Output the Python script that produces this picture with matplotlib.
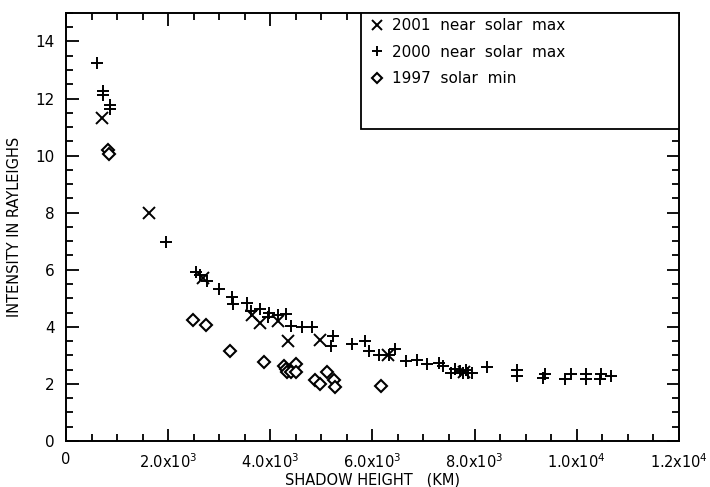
import numpy as np
import matplotlib
matplotlib.use("Agg")
import matplotlib.pyplot as plt
from matplotlib.patches import Rectangle
from matplotlib.ticker import MultipleLocator, FixedLocator

plt.rcParams['font.family'] = ['DejaVu Sans']
plt.rcParams['mathtext.default'] = 'regular'

# 2001 near solar max (x)
h_2001 = [700, 1618, 2680, 3650, 3790, 4146, 4343, 4980, 6311, 7800]
i_2001 = [11.32, 8.0, 5.72, 4.42, 4.12, 4.22, 3.5, 3.55, 3.0, 2.42]

# 2000 near solar max (+)
h_2000 = [614, 725, 725, 858, 858, 1954, 2540, 2620, 2760, 2990, 3255, 3270,
          3540, 3618, 3796, 3980, 3960, 4146, 4311, 4402, 4620, 4818, 5236,
          5188, 5598, 5849, 5928, 6126, 6330, 6440, 6664, 6881, 7079, 7297,
          7376, 7545, 7612, 7710, 7780, 7826, 7872, 7958, 8250, 8840, 8825,
          9380, 9347, 9890, 9770, 10190, 10176, 10469, 10450, 10667]
i_2000 = [13.26, 12.25, 12.11, 11.76, 11.64, 6.97, 5.92, 5.82, 5.62, 5.32,
          5.03, 4.8, 4.83, 4.56, 4.62, 4.5, 4.36, 4.41, 4.44, 4.03, 3.98,
          3.98, 3.68, 3.33, 3.39, 3.5, 3.16, 3.0, 3.0, 3.22, 2.8, 2.85, 2.68,
          2.74, 2.62, 2.39, 2.53, 2.45, 2.38, 2.47, 2.37, 2.37, 2.6, 2.48,
          2.29, 2.36, 2.2, 2.33, 2.18, 2.33, 2.18, 2.36, 2.18, 2.27]

# 1997 solar min (diamonds)
h_1997 = [816, 836, 2483, 2747, 3208, 3881, 4277, 4311, 4330, 4410, 4509,
          4509, 4877, 4976, 5117, 5255, 5267, 6175]
i_1997 = [10.2, 10.05, 4.25, 4.07, 3.15, 2.78, 2.62, 2.53, 2.42, 2.41, 2.68,
          2.4, 2.15, 1.98, 2.41, 2.15, 1.88, 1.93]

xticks = [0, 2000, 4000, 6000, 8000, 10000, 12000]
xlabels = ['0', '2.0x10$^{3}$', '4.0x10$^{3}$', '6.0x10$^{3}$',
           '8.0x10$^{3}$', '1.0x10$^{4}$', '1.2x10$^{4}$']

fig = plt.figure(figsize=(7.1, 4.87), dpi=100)
ax = fig.add_axes([0.093, 0.0945, 0.863, 0.879])

ax.plot(h_2001, i_2001, 'x', color='black', ms=9, mew=1.4, label='2001  near  solar  max')
ax.plot(h_2000, i_2000, '+', color='black', ms=9, mew=1.4, label='2000  near  solar  max')
ax.plot(h_1997, i_1997, 'D', mfc='white', mec='black', ms=6, mew=1.5, label='1997  solar  min')

ax.set_xlim(0, 12000)
ax.set_ylim(0, 15)
ax.xaxis.set_major_locator(FixedLocator(xticks))
ax.set_xticklabels(xlabels)
ax.xaxis.set_minor_locator(MultipleLocator(500))
ax.yaxis.set_major_locator(FixedLocator([0, 2, 4, 6, 8, 10, 12, 14]))
ax.yaxis.set_minor_locator(MultipleLocator(0.5))
ax.tick_params(which='both', direction='in', top=True, right=True, width=1.3,
               colors='black')
ax.tick_params(which='major', length=9, pad=8)
ax.tick_params(which='minor', length=5)
ax.tick_params(axis='x', labelsize=10.5)
ax.tick_params(axis='y', labelsize=11)
for s in ax.spines.values():
    s.set_linewidth(1.4)

ax.set_xlabel('SHADOW HEIGHT   (KM)', fontsize=10.5, labelpad=1)
ax.set_ylabel('INTENSITY IN RAYLEIGHS', fontsize=10.5, labelpad=10)

# legend box
ax.add_patch(Rectangle((0.481, 0.729), 0.519, 0.271, transform=ax.transAxes,
                       fill=True, facecolor='white', edgecolor='black', lw=1.3, zorder=3))
leg = ax.legend(loc='upper left', bbox_to_anchor=(0.475, 1.02), frameon=False,
                fontsize=11, handlelength=0.8, handletextpad=0.6, labelspacing=0.75,
                markerscale=0.85)
leg.set_zorder(4)

fig.savefig('out.png', dpi=100)
